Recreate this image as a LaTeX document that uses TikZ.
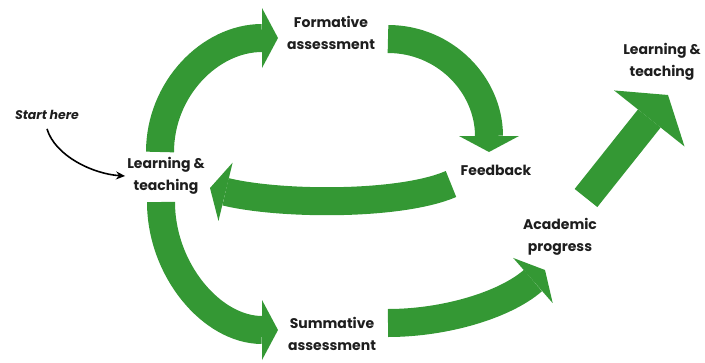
\documentclass[tikz,border=0pt]{standalone}
\usepackage{fontspec}
\setmainfont{Poppins}
\usetikzlibrary{arrows.meta}
\definecolor{flowgreen}{RGB}{52,152,52}
\definecolor{labelgrey}{RGB}{30,30,30}
\tikzset{
  flow/.style={draw=flowgreen, line width=28pt,
    -{Triangle[length=16pt,width=60pt,line width=0pt]}},
  bigflow/.style={draw=flowgreen, line width=29pt,
    -{Triangle[length=30pt,width=90pt,line width=0pt]}},
  lbl/.style={font=\fontsize{14}{21.5}\selectfont\bfseries, text=labelgrey,
    align=center, inner sep=1pt},
  startarrow/.style={draw=black, line width=1.6pt,
    -{Stealth[length=9pt,width=8pt]}},
}
\begin{document}
\begin{tikzpicture}[x=1pt, y=-1pt]
\useasboundingbox (0,0) rectangle (705,362);

% --- Labels ---
\node[lbl, font=\fontsize{12.5}{15}\selectfont\bfseries\itshape] (start) at (47,115) {Start here};
\node[lbl] (lt) at (166,176) {Learning \&\\teaching};
\node[lbl] (fa) at (331,33) {Formative\\assessment};
\node[lbl] (fb) at (496,170) {Feedback};
\node[lbl] (sa) at (332,334) {Summative\\assessment};
\node[lbl] (ap) at (560,237) {Academic\\progress};
\node[lbl] (lt2) at (662,62) {Learning \&\\teaching};

% --- Arrow ends ---
\coordinate (lt-n) at (160,152);
\coordinate (lt-s) at (161,202);
\coordinate (lt-e) at (210,188);
\coordinate (fa-w) at (278,38);
\coordinate (fa-e) at (388,39);
\coordinate (fb-n) at (489,152);
\coordinate (fb-w) at (451,184);
\coordinate (sa-w) at (278,330);
\coordinate (sa-e) at (388,323);
\coordinate (ap-s) at (545,270);
\coordinate (ap-ne) at (586,198);
\coordinate (lt2-s) at (668,95);

% --- Green arrows ---
\draw[flow] (lt-n) .. controls (160,89) and (210,38) .. (fa-w);
\draw[flow] (lt-s) .. controls (161,270) and (212,330) .. (sa-w);
\draw[flow] (fa-e) .. controls (445,39) and (489,85) .. (fb-n);
\draw[flow] (fb-w) .. controls (400,206) and (280,205) .. (lt-e);
\draw[flow] (sa-e) .. controls (445,323) and (505,305) .. (ap-s);
\draw[bigflow] (ap-ne) -- (lt2-s);

% start pointer
\draw[startarrow] ([yshift=-8pt]start.south) .. controls +(8,27) and +(-32,-2) .. ([xshift=-1pt]lt.west);
\end{tikzpicture}
\end{document}
